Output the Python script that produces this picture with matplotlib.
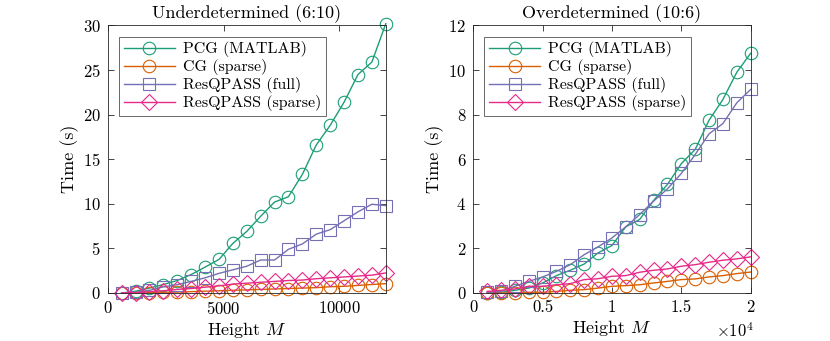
import matplotlib
matplotlib.use("Agg")
import matplotlib.pyplot as plt
import numpy as np
from matplotlib.ticker import FuncFormatter

plt.rcParams["font.family"] = "serif"
plt.rcParams["font.serif"] = ["cmr10", "DejaVu Serif"]
plt.rcParams["mathtext.fontset"] = "cm"
plt.rcParams["axes.formatter.use_mathtext"] = True

# underdetermined (6:10)
under_M = [600, 1200, 1800, 2400, 3000, 3600, 4200, 4800, 5400, 6000,
           6600, 7200, 7800, 8400, 9000, 9600, 10200, 10800, 11400, 12000]
under_pcg = [0.0, 0.2, 0.55, 0.95, 1.4, 2.07, 2.9, 3.76, 5.56, 6.9,
             8.6, 10.2, 10.8, 13.3, 16.6, 18.8, 21.4, 24.5, 25.9, 30.2]
under_cg = [0.0, 0.02, 0.05, 0.08, 0.1, 0.15, 0.2, 0.25, 0.3, 0.35,
            0.4, 0.45, 0.5, 0.55, 0.6, 0.7, 0.75, 0.85, 0.95, 1.05]
under_full = [0.0, 0.08, 0.3, 0.68, 0.94, 1.3, 1.7, 2.2, 2.6, 3.0,
              3.7, 3.7, 4.9, 5.5, 6.6, 7.1, 8.1, 9.1, 9.95, 9.8]
under_sparse = [0.0, 0.05, 0.15, 0.25, 0.4, 0.5, 0.65, 0.8, 1.0, 1.1,
                1.2, 1.3, 1.4, 1.45, 1.6, 1.7, 1.8, 1.9, 2.0, 2.25]

# overdetermined (10:6)
over_M = [1000, 2000, 3000, 4000, 5000, 6000, 7000, 8000, 9000, 10000,
          11000, 12000, 13000, 14000, 15000, 16000, 17000, 18000, 19000, 20000]
over_pcg = [0.0, 0.03, 0.12, 0.22, 0.45, 0.78, 1.02, 1.3, 1.8, 2.13,
            2.97, 3.3, 4.15, 4.87, 5.8, 6.44, 7.75, 8.68, 9.9, 10.75]
over_cg = [0.0, 0.0, 0.0, 0.03, 0.03, 0.07, 0.12, 0.15, 0.22, 0.3,
           0.33, 0.37, 0.45, 0.52, 0.6, 0.63, 0.72, 0.78, 0.87, 0.94]
over_full = [0.03, 0.07, 0.3, 0.52, 0.72, 0.97, 1.27, 1.72, 2.07, 2.47,
             2.97, 3.52, 4.12, 4.67, 5.36, 6.21, 7.14, 7.6, 8.53, 9.13]
over_sparse = [0.07, 0.12, 0.18, 0.3, 0.3, 0.37, 0.42, 0.6, 0.64, 0.75,
               0.78, 0.93, 1.02, 1.08, 1.2, 1.27, 1.38, 1.47, 1.53, 1.62]

labels = ["PCG (MATLAB)", "CG (sparse)", "ResQPASS (full)", "ResQPASS (sparse)"]
colors = ["#1b9e77", "#d95f02", "#7570b3", "#e7298a"]
markers = ["o", "o", "s", "D"]
msizes = [9, 9, 8, 8]


def draw(ax, x, series, title, ylim, yticks):
    for y, lab, c, m, ms in zip(series, labels, colors, markers, msizes):
        ax.plot(x, y, color=c, marker=m, markersize=ms, markerfacecolor="none",
                markeredgewidth=0.8, linewidth=1.0, label=lab, clip_on=False)
    ax.set_title(title, fontsize=13, pad=5)
    ax.set_xlabel("Height $M$", fontsize=13, labelpad=2)
    ax.set_ylabel("Time (s)", fontsize=13, labelpad=3)
    ax.set_ylim(ylim)
    ax.set_yticks(yticks)
    ax.tick_params(direction="in", top=True, right=True, labelsize=12,
                   length=4, width=0.6, color="#262626", pad=5)
    for s in ax.spines.values():
        s.set_linewidth(0.6)
        s.set_color("#262626")
    leg = ax.legend(loc="upper left", fontsize=11.5, frameon=True, fancybox=False,
                    edgecolor="#262626", borderpad=0.3, labelspacing=0.12,
                    handlelength=3.2, handletextpad=0.5, borderaxespad=0.7)
    leg.get_frame().set_linewidth(0.6)


fig = plt.figure(figsize=(8.3, 3.41), dpi=100)
ax1 = fig.add_axes([0.1298, 0.1408, 0.335, 0.7845])
ax2 = fig.add_axes([0.5702, 0.1408, 0.3342, 0.7845])

draw(ax1, under_M, [under_pcg, under_cg, under_full, under_sparse],
     "Underdetermined (6:10)", (0, 30), np.arange(0, 31, 5))
ax1.set_xlim(0, 12000)
ax1.set_xticks([0, 5000, 10000])

draw(ax2, over_M, [over_pcg, over_cg, over_full, over_sparse],
     "Overdetermined (10:6)", (0, 12), np.arange(0, 13, 2))
ax2.set_xlim(0, 20000)
ax2.set_xticks([0, 5000, 10000, 15000, 20000])
ax2.xaxis.set_major_formatter(FuncFormatter(lambda v, p: "%g" % (v / 1e4)))
ax2.text(1.01, -0.14, r"$\times10^{4}$", transform=ax2.transAxes,
         ha="right", va="center", fontsize=12)

fig.savefig("out.png", dpi=100)
